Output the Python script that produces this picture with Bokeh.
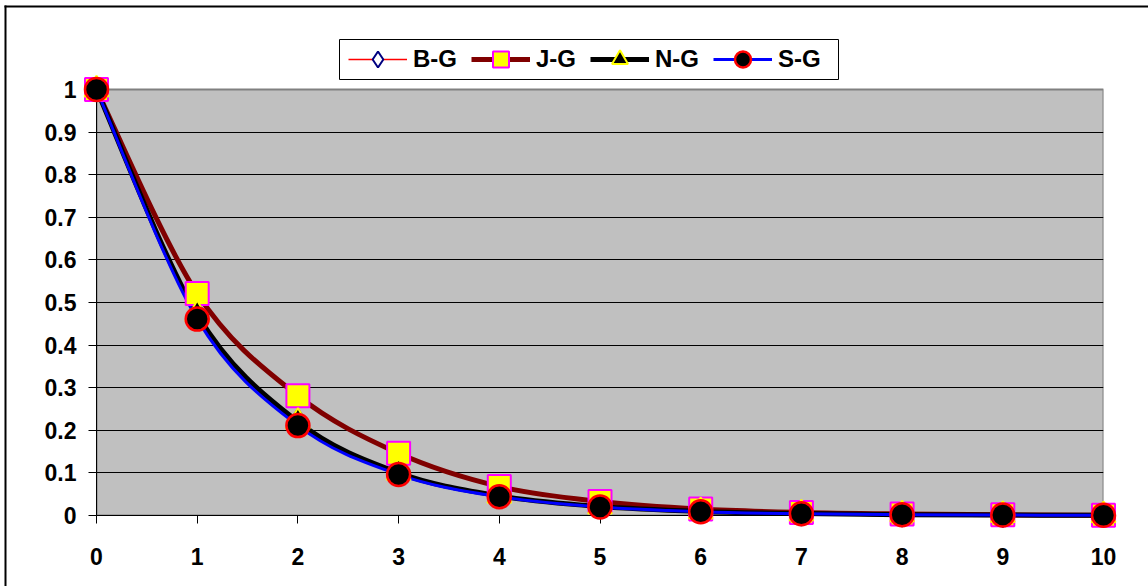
from bokeh.plotting import figure
from bokeh.models import Range1d, FixedTicker, Legend, LegendItem, BoxAnnotation
from bokeh.embed import file_html
from bokeh.resources import INLINE

# ---- data ----
x_vals = [0, 1, 2, 3, 4, 5, 6, 7, 8, 9, 10]
bg_vals = [1.0, 0.475, 0.222, 0.101, 0.046, 0.021, 0.0095, 0.0045, 0.002, 0.001, 0.0005]
jg_vals = [1.0, 0.521, 0.281, 0.146, 0.068, 0.033, 0.015, 0.007, 0.0035, 0.0016, 0.0008]
ng_vals = [1.0, 0.472, 0.220, 0.100, 0.046, 0.021, 0.0095, 0.0045, 0.002, 0.001, 0.0005]
sg_vals = [1.0, 0.461, 0.211, 0.096, 0.044, 0.020, 0.009, 0.004, 0.002, 0.001, 0.0005]
series_names = ["B-G", "J-G", "N-G", "S-G"]
y_ticks = [0, 0.1, 0.2, 0.3, 0.4, 0.5, 0.6, 0.7, 0.8, 0.9, 1.0]
y_tick_labels = ["0", "0.1", "0.2", "0.3", "0.4", "0.5", "0.6", "0.7", "0.8", "0.9", "1"]
x_ticks = [0, 1, 2, 3, 4, 5, 6, 7, 8, 9, 10]
x_tick_labels = ["0", "1", "2", "3", "4", "5", "6", "7", "8", "9", "10"]
x_min, x_max = 0, 10
y_min, y_max = 0, 1

FONT = "Liberation Sans"

# page layout (canvas pixels)
W, H = 1148, 586
FRAME_L, FRAME_R, FRAME_T, FRAME_B = 96, 1103, 30, 515   # drawing frame (includes legend strip)
PLOT_T = 89                                                 # pixel row of y = 1 (top of grey area)
LEG_L, LEG_R, LEG_T, LEG_B = 339, 838, 39, 79              # legend frame
BORDER_X, BORDER_Y = 5, 6                                   # outer chart border (left / top edges)
y_top = y_min + (y_max - y_min) * (FRAME_B - FRAME_T) / (FRAME_B - PLOT_T)


def smooth_segments(xs, ys):
    """Cubic Bezier control points (Catmull-Rom style smoothing, as Excel's smoothed lines)."""
    n = len(xs)
    d = dict(x0=[], y0=[], x1=[], y1=[], cx0=[], cy0=[], cx1=[], cy1=[])
    for i in range(n - 1):
        i0 = max(i - 1, 0)
        i3 = min(i + 2, n - 1)
        d["x0"].append(xs[i]); d["y0"].append(ys[i])
        d["x1"].append(xs[i + 1]); d["y1"].append(ys[i + 1])
        d["cx0"].append(xs[i] + (xs[i + 1] - xs[i0]) / 6)
        d["cy0"].append(ys[i] + (ys[i + 1] - ys[i0]) / 6)
        d["cx1"].append(xs[i + 1] - (xs[i3] - xs[i]) / 6)
        d["cy1"].append(ys[i + 1] - (ys[i3] - ys[i]) / 6)
    return d


p = figure(width=W, height=H, output_backend="svg", toolbar_location=None,
           x_range=Range1d(x_min, x_max), y_range=Range1d(y_min, y_top),
           min_border_left=FRAME_L, min_border_right=W - FRAME_R,
           min_border_top=FRAME_T, min_border_bottom=H - FRAME_B)
p.background_fill_color = "white"
p.border_fill_color = "white"
p.outline_line_color = None

# pixel ranges for page decorations (chart border, legend frame)
p.extra_x_ranges = {"px": Range1d(FRAME_L, FRAME_R)}
p.extra_y_ranges = {"px": Range1d(FRAME_B, FRAME_T)}

# grey plot area with its grey border
plot_area = BoxAnnotation(left=x_min, right=x_max, bottom=y_min, top=y_max,
                          fill_color="#C0C0C0", fill_alpha=1,
                          line_color="#808080", line_width=2, line_alpha=1, level="image")
p.add_layout(plot_area)

# axes
p.xaxis.ticker = FixedTicker(ticks=x_ticks)
p.xaxis.major_label_overrides = {t: l for t, l in zip(x_ticks, x_tick_labels)}
p.yaxis.ticker = FixedTicker(ticks=y_ticks)
p.yaxis.major_label_overrides = {t: l for t, l in zip(y_ticks, y_tick_labels)}
p.yaxis.bounds = (y_min, y_max)
for ax in (p.xaxis, p.yaxis):
    ax.axis_line_color = "black"
    ax.axis_line_width = 1
    ax.major_tick_line_color = "black"
    ax.major_tick_out = 8
    ax.major_tick_in = 0
    ax.minor_tick_line_color = None
    ax.major_label_text_font = FONT
    ax.major_label_text_font_style = "bold"
    ax.major_label_text_font_size = "23px"
    ax.major_label_text_color = "black"
p.xaxis.major_label_standoff = 24
p.yaxis.major_label_standoff = 12

p.xgrid.grid_line_color = None
p.ygrid.ticker = FixedTicker(ticks=y_ticks[:-1])
p.ygrid.grid_line_color = "black"
p.ygrid.grid_line_width = 1

# legend frame (white box, black border)
p.quad(left=[LEG_L], right=[LEG_R], top=[LEG_T], bottom=[LEG_B], x_range_name="px", y_range_name="px",
       fill_color="white", fill_alpha=1, line_color="black", line_width=1)

styles = [
    dict(vals=bg_vals, line_color="#FF0000", line_width=1.5, marker="diamond", size=24,
         fill_color="white", mline="#000080", mwidth=2),
    dict(vals=jg_vals, line_color="#800000", line_width=5, marker="square", size=23,
         fill_color="#FFFF00", mline="#FF00FF", mwidth=2),
    dict(vals=ng_vals, line_color="black", line_width=5, marker="triangle", size=24,
         fill_color="black", mline="#FFFF00", mwidth=2),
    dict(vals=sg_vals, line_color="#0000FF", line_width=3, marker="circle", size=23,
         fill_color="black", mline="#FF0000", mwidth=2.5),
]

line_renderers = []
for st in styles:
    seg = smooth_segments(x_vals, st["vals"])
    r = p.bezier(x0="x0", y0="y0", x1="x1", y1="y1", cx0="cx0", cy0="cy0", cx1="cx1", cy1="cy1",
                 source=seg, line_color=st["line_color"], line_width=st["line_width"], level="overlay")
    line_renderers.append(r)

marker_renderers = []
for st in styles:
    r = p.scatter(x_vals, st["vals"], marker=st["marker"], size=st["size"],
                  fill_color=st["fill_color"], line_color=st["mline"], line_width=st["mwidth"],
                  level="overlay")
    marker_renderers.append(r)

# outer chart border: only its left and top edges fall inside the page
p.segment(x0=[BORDER_X, BORDER_X - 1], y0=[BORDER_Y - 1, BORDER_Y],
          x1=[BORDER_X, W], y1=[H, BORDER_Y],
          x_range_name="px", y_range_name="px",
          line_color="black", line_width=2, line_cap="butt", level="overlay")

items = [LegendItem(label=name, renderers=[lr, mr])
         for name, lr, mr in zip(series_names, line_renderers, marker_renderers)]
legend = Legend(items=items, location=(348 - FRAME_L, FRAME_B - LEG_B), orientation="horizontal",
                glyph_width=59, glyph_height=40, padding=0, margin=0, spacing=14, label_standoff=6,
                label_text_font=FONT, label_text_font_style="bold", label_text_font_size="24px",
                label_text_color="black", border_line_color=None, background_fill_alpha=0)
p.add_layout(legend, "center")

open("out.html", "w").write(file_html(p, INLINE))
